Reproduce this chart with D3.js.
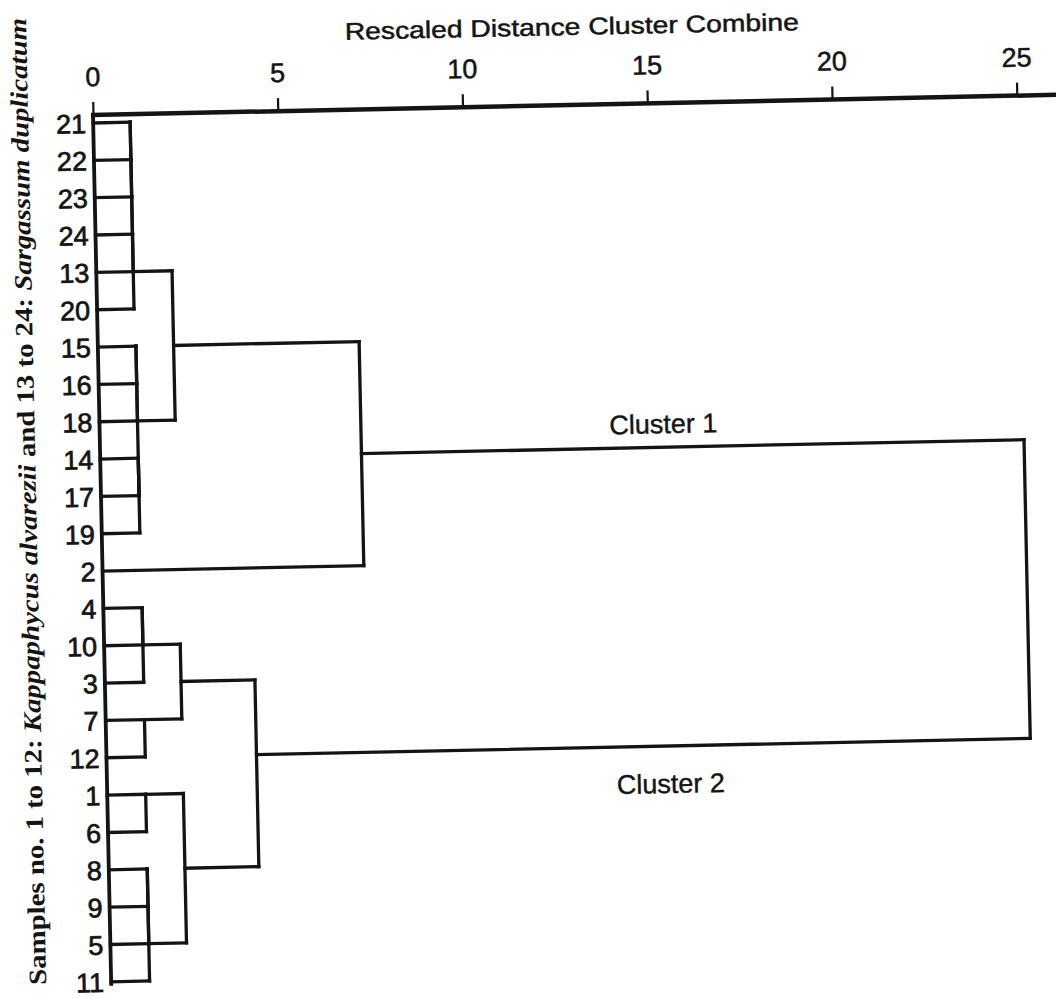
<!DOCTYPE html>
<html>
<head>
<meta charset="utf-8">
<script src="https://cdn.jsdelivr.net/npm/d3@7"></script>
<style>
  html, body { margin: 0; padding: 0; background: #fff; }
  svg { display: block; }
</style>
</head>
<body>
<svg id="chart"></svg>
<script>
// leaf order as printed down the left side
const leafLabels = ["21", "22", "23", "24", "13", "20", "15", "16", "18", "14", "17", "19",
    "2", "4", "10", "3", "7", "12", "1", "6", "8", "9", "5", "11"];

// agglomeration schedule, step i makes cluster "c" + (i + 1)
const mergeLeft  = ["21", "c1", "c2", "c3", "c4", "15", "c6", "14", "c8", "c7", "c5", "c11",
    "4", "c13", "7", "c14", "1", "8", "c18", "c19", "c17", "c16", "c12"];
const mergeRight = ["22", "23", "24", "13", "20", "16", "18", "17", "19", "c9", "c10", "2",
    "10", "3", "12", "c15", "6", "9", "5", "11", "c20", "c21", "c22"];
const mergeDist  = [1.0, 1.0, 1.0, 1.0, 1.0, 1.03, 1.03, 1.03, 1.03, 1.03, 2.05, 7.07,
    1.05, 1.05, 1.05, 2.06, 1.04, 1.04, 1.04, 1.04, 2.06, 4.06, 25.0];

const tickValues = [0, 5, 10, 15, 20, 25];
const clusterNames = ["Cluster 1", "Cluster 2"];
const clusterNodes = ["c12", "c22"];

const axisTitle = "Rescaled Distance Cluster Combine";
const yTitleParts = [
    ["Samples no. 1 to 12: ", "normal"],
    ["Kappaphycus alvarezii", "italic"],
    [" and 13 to 24: ", "normal"],
    ["Sargassum duplicatum", "italic"]
];

const sans = "'Liberation Sans', Arial, sans-serif";
const ink = "#141414";

class Dendrogram {
    constructor(svg, width = 1056, height = 998) {
        this.svg = svg;
        this.width = width;
        this.height = height;
        // origin = the 0 of the distance axis, scan is a bit tilted
        this.origin = { x: 93, y: 115 };
        this.tilt = -1.2;
    }

    initialize() {
        this.svg = d3.select(this.svg)
            .attr("width", this.width)
            .attr("height", this.height);

        this.container = this.svg.append("g")
            .attr("transform", `translate(${this.origin.x}, ${this.origin.y}) rotate(${this.tilt})`);

        this.xScale = d3.scaleLinear().domain([0, 25]).range([0, 924]);
        this.yScale = d3.scaleLinear().domain([0, leafLabels.length - 1]).range([8, 867]);
    }

    update() {
        const x = this.xScale, y = this.yScale;
        const pos = {}, dist = {};
        leafLabels.forEach((d, i) => { pos[d] = i; dist[d] = 0; });

        const segs = [];
        mergeDist.forEach((h, i) => {
            const id = "c" + (i + 1);
            const a = mergeLeft[i], b = mergeRight[i];
            pos[id] = Math.floor((pos[a] + pos[b]) / 2);
            dist[id] = h;
            segs.push({ x1: dist[a], y1: pos[a], x2: h, y2: pos[a] });
            segs.push({ x1: dist[b], y1: pos[b], x2: h, y2: pos[b] });
            segs.push({ x1: h, y1: pos[a], x2: h, y2: pos[b] });
        });

        // left base line down from the axis
        this.container.append("line")
            .attr("x1", x(0)).attr("x2", x(0))
            .attr("y1", 0).attr("y2", y(leafLabels.length - 1) + 4)
            .attr("stroke", ink).attr("stroke-width", 3.8);

        this.container.append("g").selectAll("line")
            .data(segs)
            .join("line")
            .attr("x1", d => x(d.x1))
            .attr("x2", d => x(d.x2))
            .attr("y1", d => y(d.y1))
            .attr("y2", d => y(d.y2))
            .attr("stroke", ink)
            .attr("stroke-width", 3.3)
            .attr("stroke-linecap", "square");

        // distance axis
        const axis = this.container.append("g")
            .call(d3.axisTop(x).tickValues(tickValues).tickSize(13).tickPadding(16).tickSizeOuter(0));
        axis.select(".domain").remove();
        axis.selectAll(".tick line").attr("stroke", ink).attr("stroke-width", 2.2);
        axis.selectAll(".tick text")
            .attr("fill", ink)
            .attr("stroke", ink).attr("stroke-width", 0.5)
            .style("font-family", sans)
            .style("font-size", "27px");

        this.container.append("line")
            .attr("x1", x(0) - 2).attr("x2", x(27))
            .attr("y1", 0).attr("y2", 0)
            .attr("stroke", ink).attr("stroke-width", 4.5);

        this.container.append("text")
            .attr("x", x(13)).attr("y", -70)
            .attr("text-anchor", "middle")
            .attr("textLength", 454)
            .attr("lengthAdjust", "spacingAndGlyphs")
            .style("font-family", sans)
            .style("font-size", "24px")
            .attr("fill", ink)
            .attr("stroke", ink).attr("stroke-width", 0.5)
            .text(axisTitle);

        // leaf labels
        this.container.append("g").selectAll("text")
            .data(leafLabels)
            .join("text")
            .attr("x", -7)
            .attr("y", (d, i) => y(i))
            .attr("dy", "0.37em")
            .attr("text-anchor", "end")
            .style("font-family", sans)
            .style("font-size", "27px")
            .attr("fill", ink)
            .attr("stroke", ink).attr("stroke-width", 0.7)
            .text(d => d);

        // cluster labels
        this.container.append("g").selectAll("text")
            .data(clusterNames)
            .join("text")
            .attr("x", x(15.25))
            .attr("y", (d, i) => y(pos[clusterNodes[i]]) + (i === 0 ? -14 : 47))
            .attr("text-anchor", "middle")
            .style("font-family", sans)
            .style("font-size", "27px")
            .attr("fill", ink)
            .attr("stroke", ink).attr("stroke-width", 0.4)
            .text(d => d);

        // rotated sample title
        const yt = this.container.append("text")
            .attr("transform", `translate(-65, 385) rotate(-90)`)
            .attr("text-anchor", "middle")
            .attr("textLength", 967)
            .attr("lengthAdjust", "spacingAndGlyphs")
            .style("font-family", "'Liberation Serif', 'Times New Roman', serif")
            .style("font-size", "25px")
            .style("font-weight", "bold")
            .attr("fill", ink);
        yt.selectAll("tspan")
            .data(yTitleParts)
            .join("tspan")
            .style("font-style", d => d[1])
            .text(d => d[0]);
    }
}

const chart = new Dendrogram(document.getElementById("chart"));
chart.initialize();
chart.update();
</script>
</body>
</html>
